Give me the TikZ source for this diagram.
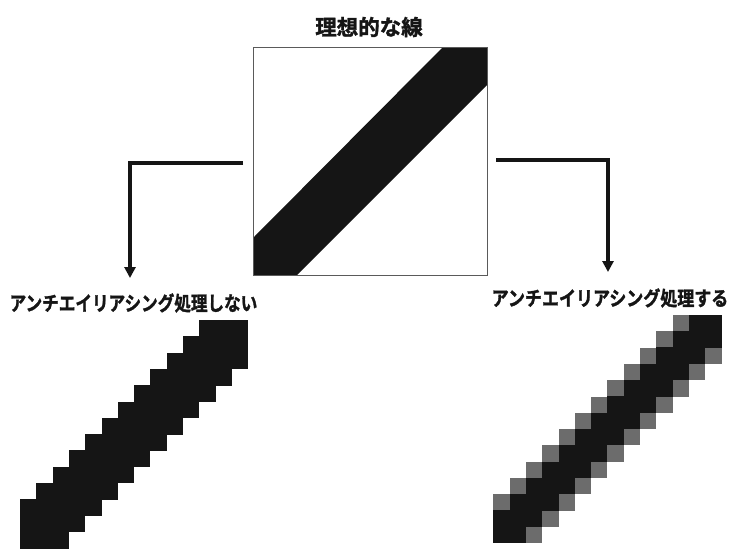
\documentclass[tikz,border=0pt]{standalone}
\usepackage{fontspec}
\newfontfamily\jp{Noto Sans CJK JP Bold}[FakeBold=1.6]
\usetikzlibrary{arrows.meta}
\definecolor{ink}{HTML}{151515}
\definecolor{aa}{HTML}{6C6C6C}
\definecolor{frame}{HTML}{5A5A5A}
\begin{document}
\begin{tikzpicture}[x=1pt,y=-1pt,
  conn/.style={line width=3.6pt, draw=ink, -{Triangle[length=11pt,width=11pt]}},
  lbl/.style={font={\jp\fontsize{20pt}{20pt}\selectfont}, text=ink, inner sep=0pt},
  ttl/.style={font={\jp\fontsize{21.5pt}{21.5pt}\selectfont}, text=ink, inner sep=0pt},
  framebox/.style={draw=frame, line width=0.9pt, minimum width=234pt, minimum height=228pt, inner sep=0pt},
  darkpx/.style={fill=ink},
  greypx/.style={fill=aa}]
\useasboundingbox (0,0) rectangle (732,550);
% ideal line
\fill[ink] (253,238) -- (253,275) -- (297,275) -- (487,85) -- (487,47) -- (443,47) -- cycle;
\node[framebox] (box) at (370,161) {};
\node[ttl] (title) at (369,27) {理想的な線};
% labels
\node[lbl] (labelL) at (133.5,303) {\scalebox{0.83}[1]{アンチエイリアシング処理しない}};
\node[lbl] (labelR) at (610,298) {\scalebox{0.85}[1]{アンチエイリアシング処理する}};
% connectors
\coordinate (startL) at (243,163);
\coordinate (tipL) at (130,278);
\coordinate (startR) at (496,160);
\coordinate (tipR) at (608,272);
\draw[conn] (startL) -| (tipL);
\draw[conn] (startR) -| (tipR);
% aliased pixels
\foreach \r in {0,...,13}{
  \pgfmathtruncatemacro\a{max(0,11-\r)}
  \pgfmathtruncatemacro\b{min(13,15-\r)}
  \fill[darkpx] ({20+\a*16.3},{320+\r*16.3}) rectangle ({20+(\b+1)*16.3},{320+(\r+1)*16.3+0.4});
}
% anti-aliased pixels
\foreach \r in {0,...,13}{
  \pgfmathtruncatemacro\a{max(0,11-\r)}
  \pgfmathtruncatemacro\b{min(13,15-\r)}
  \pgfmathtruncatemacro\c{max(0,12-\r)}
  \pgfmathtruncatemacro\d{min(13,14-\r)}
  \fill[greypx] ({493.3+\a*16.3},{315+\r*16.3}) rectangle ({493.3+(\b+1)*16.3},{315+(\r+1)*16.3});
  \fill[darkpx] ({493.3+\c*16.3},{315+\r*16.3-0.2}) rectangle ({493.3+(\d+1)*16.3},{315+(\r+1)*16.3+0.2});
}
\end{tikzpicture}
\end{document}
